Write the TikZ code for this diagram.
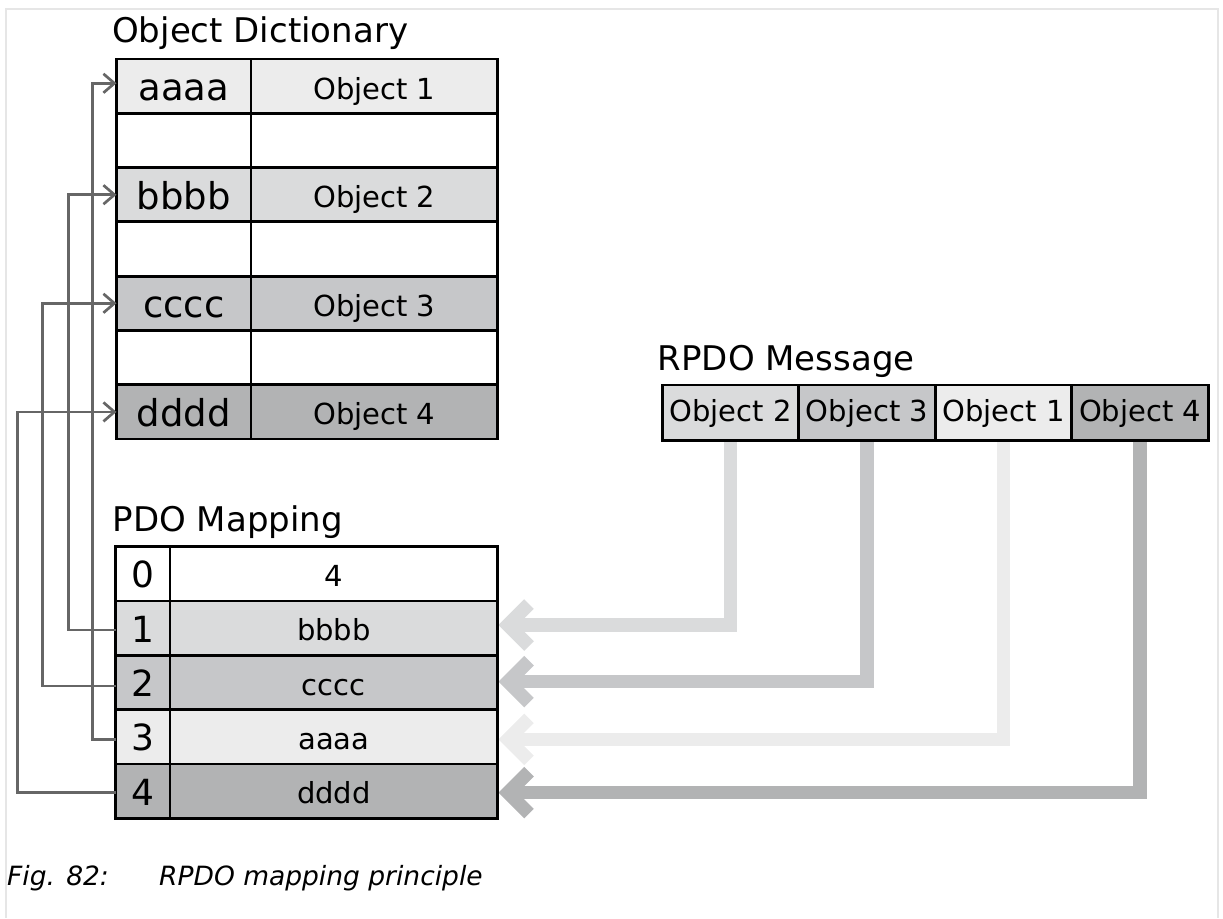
\documentclass[tikz,border=0pt]{standalone}
\usepackage{fontspec}
\setmainfont{DejaVu Sans}
\usetikzlibrary{arrows.meta}
\definecolor{cA}{HTML}{ECECEC}
\definecolor{cB}{HTML}{DADBDC}
\definecolor{cC}{HTML}{C6C7C9}
\definecolor{cD}{HTML}{B2B3B4}
\definecolor{connc}{HTML}{666666}
\definecolor{framec}{HTML}{E6E6E6}
\pgfdeclarelayer{bg}
\pgfsetlayers{bg,main}
\begin{document}
\begin{tikzpicture}[x=1pt,y=-1pt,
  cell/.style={draw=black, line width=2.8pt, inner sep=0pt, outer sep=0pt, text depth=0pt},
  dkey/.style={cell, minimum width=134.5pt, minimum height=54.29pt, font=\fontsize{37}{44}\selectfont, text height=29pt},
  dval/.style={cell, minimum width=246.7pt, minimum height=54.29pt, font=\fontsize{29}{35}\selectfont, text height=26pt},
  mkey/.style={cell, minimum width=54.3pt, minimum height=54.32pt, font=\fontsize{36}{43}\selectfont, text height=28pt},
  mval/.style={cell, minimum width=327.7pt, minimum height=54.32pt, font=\fontsize{29}{35}\selectfont, text height=25pt},
  rcell/.style={cell, minimum width=136.55pt, minimum height=55.7pt, font=\fontsize{29}{35}\selectfont, text height=18pt},
  title/.style={anchor=base west, inner sep=0pt, font=\fontsize{34}{40}\selectfont},
  caption/.style={anchor=base west, inner sep=0pt, font=\fontsize{26.5}{32}\selectfont\itshape},
  conn/.style={draw=connc, line width=2.7pt, line join=miter, -{Straight Barb[length=11pt,width=19pt]}},
  big/.style={line width=13.5pt, line join=miter}
]
\useasboundingbox (0,0) rectangle (1223,918);
\draw[framec, line width=2pt] (6,918) -- (6,9) -- (1217.5,9) -- (1217.5,918);

% Object Dictionary
\node[title] (tdict) at (112,42.7) {Object Dictionary};
\node[dkey, fill=cA] (d1k) at (183.75,86.1) {aaaa};
\node[dval, fill=cA] (d1v) at (374.35,86.1) {Object 1};
\node[dkey, fill=white] (d2k) at (183.75,140.4) {};
\node[dval, fill=white] (d2v) at (374.35,140.4) {};
\node[dkey, fill=cB] (d3k) at (183.75,194.7) {bbbb};
\node[dval, fill=cB] (d3v) at (374.35,194.7) {Object 2};
\node[dkey, fill=white] (d4k) at (183.75,249.0) {};
\node[dval, fill=white] (d4v) at (374.35,249.0) {};
\node[dkey, fill=cC] (d5k) at (183.75,303.3) {cccc};
\node[dval, fill=cC] (d5v) at (374.35,303.3) {Object 3};
\node[dkey, fill=white] (d6k) at (183.75,357.6) {};
\node[dval, fill=white] (d6v) at (374.35,357.6) {};
\node[dkey, fill=cD] (d7k) at (183.75,411.9) {dddd};
\node[dval, fill=cD] (d7v) at (374.35,411.9) {Object 4};

% PDO Mapping
\node[title] (tmap) at (112.5,531) {PDO Mapping};
\node[mkey, fill=white] (m0k) at (142.85,573.9) {0};
\node[mval, fill=white] (m0v) at (333.85,573.9) {4};
\node[mkey, fill=cB] (m1k) at (142.85,628.2) {1};
\node[mval, fill=cB] (m1v) at (333.85,628.2) {bbbb};
\node[mkey, fill=cC] (m2k) at (142.85,682.5) {2};
\node[mval, fill=cC] (m2v) at (333.85,682.5) {cccc};
\node[mkey, fill=cA] (m3k) at (142.85,736.8) {3};
\node[mval, fill=cA] (m3v) at (333.85,736.8) {aaaa};
\node[mkey, fill=cD] (m4k) at (142.85,791.1) {4};
\node[mval, fill=cD] (m4v) at (333.85,791.1) {dddd};

% RPDO Message
\node[title] (trpdo) at (657.5,370) {RPDO Message};
\node[rcell, fill=cB] (r2) at (730.45,412.85) {Object 2};
\node[rcell, fill=cC] (r3) at (867.0,412.85) {Object 3};
\node[rcell, fill=cA] (r1) at (1003.55,412.85) {Object 1};
\node[rcell, fill=cD] (r4) at (1140.1,412.85) {Object 4};

% thin mapping connectors
\coordinate (xa) at (92.3,0);
\coordinate (xb) at (68.3,0);
\coordinate (xc) at (42.7,0);
\coordinate (xd) at (17.3,0);
\coordinate (ta) at ([yshift=2.8pt]d1k.west);
\draw[conn] ([yshift=-1.8pt]m1k.west) -| (xb |- d3k.west) -- (d3k.west);
\draw[conn] ([yshift=-3.5pt]m2k.west) -| (xc |- d5k.west) -- (d5k.west);
\draw[conn] ([yshift=-2.5pt]m3k.west) -| (xa |- ta) -- (ta);
\draw[conn] ([yshift=-1.2pt]m4k.west) -| (xd |- d7k.west) -- (d7k.west);

% thick RPDO arrows
\coordinate (t1) at (508,625);
\coordinate (t2) at (508,681.7);
\coordinate (t3) at (508,739.3);
\coordinate (t4) at (508,792.7);
\begin{pgfonlayer}{bg}
\draw[big, cB] (r2.south) |- (t1);
\draw[big, cB] ([shift={(21,-21)}]t1) -- (t1) -- ([shift={(21,21)}]t1);
\draw[big, cC] (r3.south) |- (t2);
\draw[big, cC] ([shift={(21,-21)}]t2) -- (t2) -- ([shift={(21,21)}]t2);
\draw[big, cA] (r1.south) |- (t3);
\draw[big, cA] ([shift={(21,-21)}]t3) -- (t3) -- ([shift={(21,21)}]t3);
\draw[big, cD] (r4.south) |- (t4);
\draw[big, cD] ([shift={(21,-21)}]t4) -- (t4) -- ([shift={(21,21)}]t4);
\end{pgfonlayer}

% caption
\node[caption] (cap1) at (7,885) {Fig. 82:};
\node[caption] (cap2) at (159,885) {RPDO mapping principle};
\end{tikzpicture}
\end{document}
